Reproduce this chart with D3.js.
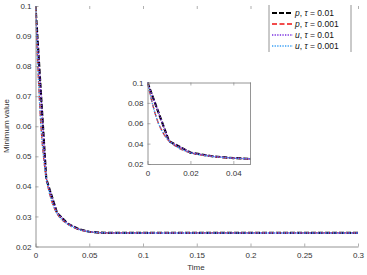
<!DOCTYPE html>
<html>
<head>
<meta charset="utf-8">
<script src="https://cdn.jsdelivr.net/npm/d3@7"></script>
<style>
  body { margin: 0; background: #fff; }
  svg text { font-family: "Liberation Sans", Arial, sans-serif; }
</style>
</head>
<body>
<svg id="chart" width="367" height="275"></svg>
<script>
// time samples and minimum values
const timeFine = [0, 0.0025, 0.005, 0.0075, 0.01, 0.0125, 0.015, 0.0175, 0.02, 0.025,
  0.03, 0.035, 0.04, 0.045, 0.05, 0.06, 0.08, 0.1, 0.15, 0.2, 0.25, 0.3];
const minFine = [0.1, 0.0775, 0.0605, 0.0498, 0.0428, 0.0385, 0.0352, 0.0328, 0.031, 0.0288,
  0.0274, 0.0264, 0.0257, 0.0252, 0.0249, 0.0246, 0.0245, 0.0245, 0.0245, 0.0245, 0.0245, 0.0245];

const timeCoarse = [0, 0.01, 0.02, 0.03, 0.04, 0.05, 0.06, 0.07, 0.08, 0.1, 0.15, 0.2, 0.25, 0.3];
const minCoarse = [0.1, 0.0425, 0.0312, 0.0276, 0.0258, 0.0249, 0.0246, 0.0245, 0.0245, 0.0245,
  0.0245, 0.0245, 0.0245, 0.0245];

const seriesNames = ["p, τ = 0.01", "p, τ = 0.001", "u, τ = 0.01", "u, τ = 0.001"];
const mainXTicks = [0, 0.05, 0.1, 0.15, 0.2, 0.25, 0.3];
const mainYTicks = [0.02, 0.03, 0.04, 0.05, 0.06, 0.07, 0.08, 0.09, 0.1];
const insetXTicks = [0, 0.02, 0.04];
const insetYTicks = [0.02, 0.04, 0.06, 0.08, 0.1];

const series = [
  { name: seriesNames[0], t: timeCoarse, v: minCoarse, color: "#000", width: 2.2, dash: "5,2" },
  { name: seriesNames[1], t: timeFine, v: minFine, color: "#ee1111", width: 1.3, dash: "5,2.5" },
  { name: seriesNames[2], t: timeCoarse, v: minCoarse, color: "#7a2fe0", width: 1.4, dash: "1.3,1.3" },
  { name: seriesNames[3], t: timeFine, v: minFine, color: "#3aa0f5", width: 1.4, dash: "1.3,1.3" }
];

const svg = d3.select("#chart");
const axisColor = "#7a7a7a";
const textColor = "#333";

function drawPanel(g, x, y, xTicks, yTicks, opts) {
  const [x0, x1] = x.range();
  const [y0, y1] = y.range();
  if (opts.bg) {
    g.append("rect").attr("x", x0).attr("y", y1).attr("width", x1 - x0).attr("height", y0 - y1)
      .attr("fill", "#fff");
  }
  const clipId = "clip" + opts.id;
  g.append("clipPath").attr("id", clipId).append("rect")
    .attr("x", x0).attr("y", y1 - 2).attr("width", x1 - x0).attr("height", y0 - y1 + 2);

  const line = d3.line().x(d => x(d[0])).y(d => y(d[1]));
  const plot = g.append("g").attr("clip-path", `url(#${clipId})`);
  series.forEach(s => {
    const pts = s.t.map((t, i) => [t, s.v[i]]);
    plot.append("path").datum(pts)
      .attr("fill", "none")
      .attr("stroke", s.color)
      .attr("stroke-width", s.width)
      .attr("stroke-dasharray", s.dash)
      .attr("d", s.name.endsWith("0.001") ? line.curve(d3.curveMonotoneX)(pts) : line.curve(d3.curveLinear)(pts));
  });

  const fmt = d => String(+d.toFixed(3));
  const xa = g.append("g").attr("transform", `translate(0,${y0})`)
    .call(d3.axisBottom(x).tickValues(xTicks).tickFormat(fmt).tickSizeInner(-3).tickSizeOuter(0).tickPadding(6));
  const ya = g.append("g").attr("transform", `translate(${x0},0)`)
    .call(d3.axisLeft(y).tickValues(yTicks).tickFormat(fmt).tickSizeInner(-3).tickSizeOuter(0).tickPadding(4));
  const xt = g.append("g").attr("transform", `translate(0,${y1})`)
    .call(d3.axisTop(x).tickValues(xTicks).tickFormat("").tickSizeInner(-3).tickSizeOuter(0));
  [xa, ya, xt].forEach(a => {
    a.selectAll("path").attr("stroke", axisColor).attr("stroke-width", 0.8);
    a.selectAll("line").attr("stroke", axisColor).attr("stroke-width", 0.6);
    a.selectAll("text").attr("fill", textColor).attr("font-size", "8px");
  });
  if (!opts.topLine) xt.select("path").remove();
  if (opts.rightLine) {
    g.append("line").attr("x1", x1).attr("x2", x1).attr("y1", y1).attr("y2", y0)
      .attr("stroke", axisColor).attr("stroke-width", 0.8);
  }
}

// main axes
const x = d3.scaleLinear().domain([0, 0.3]).range([35.5, 358]);
const y = d3.scaleLinear().domain([0.02, 0.1]).range([246.5, 6]);
drawPanel(svg.append("g"), x, y, mainXTicks, mainYTicks, { id: "main" });

svg.append("text").attr("x", 196).attr("y", 270).attr("text-anchor", "middle")
  .attr("font-size", "8px").attr("fill", textColor).text("Time");
svg.append("text").attr("transform", "translate(9,126) rotate(-90)").attr("text-anchor", "middle")
  .attr("font-size", "8px").attr("fill", textColor).text("Minimum value");

// inset axes
const xi = d3.scaleLinear().domain([0, 0.048]).range([147.5, 250.5]);
const yi = d3.scaleLinear().domain([0.02, 0.1]).range([164, 82.5]);
drawPanel(svg.append("g"), xi, yi, insetXTicks, insetYTicks, { id: "inset", bg: true, topLine: true, rightLine: true });

// legend
const leg = svg.append("g");
leg.append("rect").attr("x", 269).attr("y", 5).attr("width", 82).attr("height", 47).attr("fill", "#fff");
[269, 351].forEach(lx => leg.append("line").attr("x1", lx).attr("x2", lx).attr("y1", 5).attr("y2", 52)
  .attr("stroke", axisColor).attr("stroke-width", 0.8));
series.forEach((s, i) => {
  const ly = 13 + i * 11;
  leg.append("line").attr("x1", 272).attr("x2", 293).attr("y1", ly).attr("y2", ly)
    .attr("stroke", s.color).attr("stroke-width", s.width).attr("stroke-dasharray", s.dash);
  const [vr, rest] = s.name.split(", ");
  const t = leg.append("text").attr("x", 295).attr("y", ly + 3)
    .attr("font-family", "'Liberation Serif', 'DejaVu Serif', serif").attr("font-size", "8.5px").attr("fill", "#111");
  t.append("tspan").attr("font-style", "italic").text(vr);
  t.append("tspan").text(", ");
  t.append("tspan").attr("font-style", "italic").text("τ");
  t.append("tspan").text(rest.slice(1));
});
</script>
</body>
</html>
